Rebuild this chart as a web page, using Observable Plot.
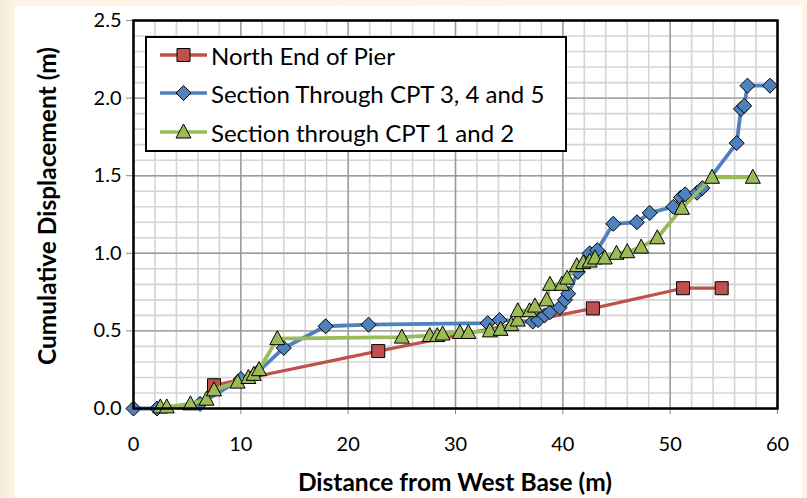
<!DOCTYPE html>
<html><head><meta charset="utf-8">
<script src="https://cdn.jsdelivr.net/npm/d3@7"></script>
<script src="https://cdn.jsdelivr.net/npm/@observablehq/plot@0.6"></script>
<style>
html,body{margin:0;padding:0;}
body{width:807px;height:498px;background:linear-gradient(90deg,#f7ecdc 0px,#fcf4e2 15px,#fdf6e4 100%);position:relative;overflow:hidden;font-family:Lato,"Open Sans",sans-serif;}
#panel{position:absolute;left:15px;top:6px;width:787px;height:492px;background:#fff;}
#chart{position:absolute;left:0;top:0;}
#legend{position:absolute;left:145px;top:36px;width:422px;height:116px;border:2.5px solid #000;background:#fff;box-sizing:border-box;}
.entry{position:absolute;left:13px;height:32px;display:flex;align-items:center;font-size:24px;color:#000;white-space:nowrap;}
.entry svg{margin-right:3px;}
.xtitle{position:absolute;left:133px;width:644px;top:467px;text-align:center;font-weight:bold;font-size:24.5px;line-height:30px;}
.ytitle{position:absolute;left:46px;top:206px;transform:translate(-50%,-50%) rotate(-90deg);font-weight:bold;font-size:24.5px;white-space:nowrap;}
</style>
</head><body>
<div id="panel"></div>
<div id="chart"></div>
<div id="legend"></div>
<div class="xtitle">Distance from West Base (m)</div>
<div class="ytitle">Cumulative Displacement (m)</div>
<script>
// ---- data ----
const seriesNames = ["North End of Pier", "Section Through CPT 3, 4 and 5", "Section through CPT 1 and 2"];

const northX = [7.5, 22.8, 42.8, 51.2, 54.8];
const northY = [0.15, 0.37, 0.645, 0.775, 0.775];

const cpt345X = [0, 2.2, 6.2, 10.0, 11.5, 14.0, 17.9, 21.9, 33.0, 34.1, 37.2, 37.7, 38.3, 38.8, 39.7, 40.2, 40.5, 41.4, 42.5, 43.2, 44.7, 46.9, 48.1, 50.3, 51.0, 51.4, 52.5, 53.0, 56.2, 56.6, 56.9, 57.2, 59.3];
const cpt345Y = [0, 0, 0.03, 0.19, 0.23, 0.39, 0.53, 0.54, 0.55, 0.57, 0.56, 0.57, 0.6, 0.62, 0.65, 0.7, 0.74, 0.88, 1.0, 1.02, 1.19, 1.2, 1.26, 1.3, 1.36, 1.38, 1.39, 1.42, 1.71, 1.93, 1.95, 2.08, 2.08];

const cpt12X = [2.5, 3.1, 5.3, 6.8, 7.5, 9.7, 10.7, 11.2, 11.7, 13.4, 25.0, 27.6, 28.3, 28.8, 30.4, 31.2, 33.2, 34.2, 35.2, 35.8, 35.8, 36.9, 37.4, 38.5, 38.8, 39.9, 40.4, 41.3, 41.9, 42.5, 43.0, 43.9, 45.0, 46.0, 47.3, 48.8, 51.1, 53.9, 57.7];
const cpt12Y = [0.01, 0.01, 0.03, 0.06, 0.12, 0.17, 0.2, 0.22, 0.25, 0.45, 0.46, 0.47, 0.47, 0.48, 0.49, 0.49, 0.5, 0.51, 0.54, 0.57, 0.63, 0.63, 0.66, 0.7, 0.8, 0.8, 0.84, 0.92, 0.94, 0.95, 0.97, 0.97, 1.0, 1.01, 1.04, 1.1, 1.29, 1.49, 1.49];

const xTicks = [0, 10, 20, 30, 40, 50, 60];
const yTicks = [0, 0.5, 1.0, 1.5, 2.0, 2.5];
const xMinor = d3.range(0, 61, 2);
const yMinor = d3.range(0, 26, 1).map(d => d / 10);

// ---- styles ----
const colors = ["#c0504d", "#4f81bd", "#9bbb59"];
const squareSym = {draw(c) { c.moveTo(-6.5, -6.5); c.lineTo(6.5, -6.5); c.lineTo(6.5, 6.5); c.lineTo(-6.5, 6.5); c.closePath(); }};
const diamondSym = {draw(c) { c.moveTo(0, -7.5); c.lineTo(7.5, 0); c.lineTo(0, 7.5); c.lineTo(-7.5, 0); c.closePath(); }};
const triangleSym = {draw(c) { c.moveTo(0, -8); c.lineTo(7.5, 6); c.lineTo(-7.5, 6); c.closePath(); }};
const symbols = [squareSym, diamondSym, triangleSym];

const toRows = (xs, ys) => xs.map((x, i) => ({x, y: ys[i]}));
const series = [toRows(northX, northY), toRows(cpt345X, cpt345Y), toRows(cpt12X, cpt12Y)];

const marks = [
  Plot.gridX(xMinor, {stroke: "#d4d4d4", strokeOpacity: 1, strokeWidth: 1.6}),
  Plot.gridY(yMinor, {stroke: "#d4d4d4", strokeOpacity: 1, strokeWidth: 1.6}),
  Plot.gridX(xTicks, {stroke: "#9a9a9a", strokeOpacity: 1, strokeWidth: 1.4}),
  Plot.gridY(yTicks, {stroke: "#9a9a9a", strokeOpacity: 1, strokeWidth: 1.4}),
  Plot.axisX(xTicks, {tickSize: 6, tickPadding: 22, stroke: "#888", tickFormat: d => String(d)}),
  Plot.axisY(yTicks, {tickSize: 7, tickPadding: 5, stroke: "#888", tickFormat: d => d.toFixed(1)}),
];
series.forEach((rows, i) => {
  marks.push(Plot.line(rows, {x: "x", y: "y", stroke: colors[i], strokeWidth: i === 0 ? 3.2 : 3.8, strokeLinejoin: "round", curve: "linear"}));
  marks.push(Plot.dot(rows, {x: "x", y: "y", symbol: symbols[i], r: 5, fill: colors[i], stroke: "#000", strokeWidth: 1}));
});
marks.push(Plot.frame({stroke: "#000", strokeWidth: 2.5}));

const chart = Plot.plot({
  width: 807, height: 498,
  marginLeft: 133, marginRight: 30, marginTop: 20, marginBottom: 90,
  style: {background: "transparent", fontFamily: "Lato, 'Open Sans', sans-serif", fontSize: "20px", color: "#000"},
  x: {domain: [0, 60], label: null},
  y: {domain: [0, 2.5], label: null},
  marks
});
document.getElementById("chart").appendChild(chart);

// ---- legend ----
const legend = d3.select("#legend");
const rowTops = [1, 39, 78];
seriesNames.forEach((name, i) => {
  const e = legend.append("div").attr("class", "entry").style("top", rowTops[i] + "px");
  const s = e.append("svg").attr("width", 48).attr("height", 30);
  s.append("line").attr("x1", 0).attr("x2", 47).attr("y1", 15).attr("y2", 15).attr("stroke", colors[i]).attr("stroke-width", 3.5);
  s.append("path").attr("transform", "translate(23.5,15)")
    .attr("d", (() => { const p = d3.path(); symbols[i].draw(p); return p.toString(); })())
    .attr("fill", colors[i]).attr("stroke", "#000").attr("stroke-width", 1);
  e.append("span").text(name);
});
</script>
</body></html>
